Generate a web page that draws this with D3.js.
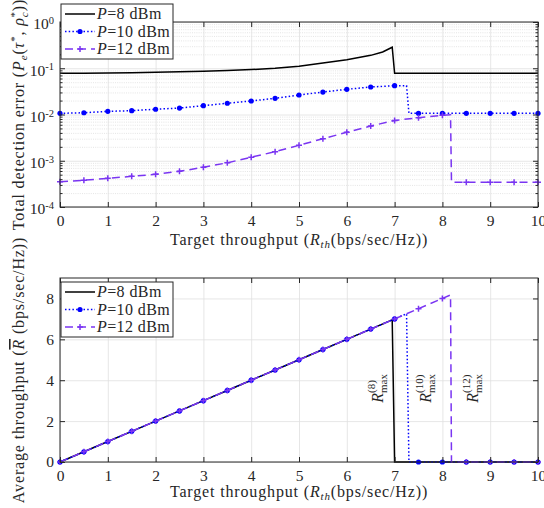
<!DOCTYPE html>
<html>
<head>
<meta charset="utf-8">
<script src="https://cdn.jsdelivr.net/npm/d3@7"></script>
<style>
  body{margin:0;background:#fff}
  text{font-family:"Liberation Serif","Times New Roman",serif;fill:#262626}
  .lbl{font-size:16px;letter-spacing:0.85px}
</style>
</head>
<body>
<script>
// ============= Data =============
const xTicks = [0,1,2,3,4,5,6,7,8,9,10];
const errTicks = [1e-4,1e-3,1e-2,1e-1,1];
const thrTicks = [0,2,4,6,8];

// Top panel: total detection error
const p8ErrX = [0,0.5,1,1.5,2,2.5,3,3.5,4,4.5,5,5.5,6,6.5,6.75,6.95,7,7.5,8,8.5,9,9.5,10];
const p8Err  = [0.0778,0.0782,0.079,0.0802,0.0817,0.0838,0.0865,0.0895,0.0935,0.1,0.11,0.13,0.152,0.19,0.225,0.285,0.0778,0.0778,0.0778,0.0778,0.0778,0.0778,0.0778];

const p10ErrX = [0,0.5,1,1.5,2,2.5,3,3.5,4,4.5,5,5.5,6,6.5,7,7.25,7.3,7.5,8,8.5,9,9.5,10];
const p10Err  = [0.0106,0.0109,0.0117,0.0121,0.013,0.0138,0.0155,0.0175,0.0196,0.0224,0.0264,0.0306,0.0351,0.0393,0.042,0.042,0.0106,0.0106,0.0106,0.0106,0.0106,0.0106,0.0106];

const p12ErrX = [0,0.5,1,1.5,2,2.5,3,3.5,4,4.5,5,5.5,6,6.5,7,7.5,8,8.17,8.19,8.5,9,9.5,10];
const p12Err  = [0.000352,0.000378,0.000417,0.000461,0.000509,0.000591,0.000722,0.000904,0.00119,0.00157,0.00216,0.003,0.00412,0.00564,0.00741,0.00853,0.00961,0.0099,0.000342,0.000342,0.000342,0.000342,0.000342];

// Bottom panel: average throughput
const p8ThrX = [0,0.5,1,1.5,2,2.5,3,3.5,4,4.5,5,5.5,6,6.5,6.95,7,7.5,8,8.5,9,9.5,10];
const p8Thr  = [0,0.5,1,1.5,2,2.5,3,3.5,4,4.5,5,5.5,6,6.5,6.95,0,0,0,0,0,0,0];

const p10ThrX = [0,0.5,1,1.5,2,2.5,3,3.5,4,4.5,5,5.5,6,6.5,7,7.25,7.3,7.5,8,8.5,9,9.5,10];
const p10Thr  = [0,0.5,1,1.5,2,2.5,3,3.5,4,4.5,5,5.5,6,6.5,7,7.25,0,0,0,0,0,0,0];

const p12ThrX = [0,0.5,1,1.5,2,2.5,3,3.5,4,4.5,5,5.5,6,6.5,7,7.5,8,8.17,8.19,8.5,9,9.5,10];
const p12Thr  = [0,0.5,1,1.5,2,2.5,3,3.5,4,4.5,5,5.5,6,6.5,7,7.5,8,8.17,0,0,0,0,0];

const legendLabels = ['8','10','12'];
const annX = [6.65, 7.65, 8.63];
const annY = [3.6, 3.6, 3.6];
const annSup = ['(8)','(10)','(12)'];

// ============= Styles =============
const axisColor = '#262626';
const styles = [
  {color:'#000000', dash:null, marker:null},
  {color:'#0000ff', dash:'1.5,2.2', marker:'dot'},
  {color:'#7a35f2', dash:'8,5', marker:'plus'}
];

const W = 544, H = 508;
const svg = d3.select('body').append('svg')
  .attr('width', W).attr('height', H);

const x = d3.scaleLinear([0,10],[60,538]);
const yTop = d3.scaleLog([1e-4,1],[207,22]);
const yBot = d3.scaleLinear([0,9],[462,278]);

// ------------ Grid ------------
function drawFrame(y, yTickVals, yMinor, top, bottom){
  const g = svg.append('g');
  const left = x.range()[0], right = x.range()[1];

  // minor grid (log panel only)
  if(yMinor){
    g.append('g')
      .attr('transform', 'translate(' + left + ',0)')
      .call(d3.axisLeft(y).tickValues(yMinor).tickSize(-(right-left)).tickFormat(''))
      .call(s => s.select('.domain').remove())
      .selectAll('line').attr('stroke', '#d4d4d4').attr('stroke-width', 0.6).attr('stroke-dasharray', '1,1.2');
  }
  // major grid
  g.append('g')
    .attr('transform', 'translate(0,' + bottom + ')')
    .call(d3.axisBottom(x).tickValues(xTicks).tickSize(-(bottom-top)).tickFormat(''))
    .call(s => s.select('.domain').remove())
    .selectAll('line').attr('stroke', '#e0e0e0').attr('stroke-width', 0.8);
  g.append('g')
    .attr('transform', 'translate(' + left + ',0)')
    .call(d3.axisLeft(y).tickValues(yTickVals).tickSize(-(right-left)).tickFormat(''))
    .call(s => s.select('.domain').remove())
    .selectAll('line').attr('stroke', '#e0e0e0').attr('stroke-width', 0.8);
  return g;
}

// ------------ Axes + box ------------
function drawAxes(y, yTickVals, yMinor, top, bottom, yFmt){
  const g = svg.append('g');
  const left = x.range()[0], right = x.range()[1];

  g.append('g')
    .attr('transform', 'translate(0,' + bottom + ')')
    .call(d3.axisBottom(x).tickValues(xTicks).tickSizeInner(-5).tickSizeOuter(0).tickPadding(8))
    .call(s => s.select('.domain').remove())
    .call(s => s.selectAll('line').attr('stroke', axisColor))
    .call(s => s.selectAll('text').style('font-size', '15.5px').attr('fill', axisColor));
  g.append('g')
    .attr('transform', 'translate(0,' + top + ')')
    .call(d3.axisTop(x).tickValues(xTicks).tickSizeInner(-5).tickSizeOuter(0).tickFormat(''))
    .call(s => s.select('.domain').remove())
    .selectAll('line').attr('stroke', axisColor);
  const la = g.append('g')
    .attr('transform', 'translate(' + left + ',0)')
    .call(d3.axisLeft(y).tickValues(yTickVals).tickSizeInner(-5).tickSizeOuter(0).tickPadding(6).tickFormat(''))
    .call(s => s.select('.domain').remove());
  la.selectAll('line').attr('stroke', axisColor);
  la.selectAll('.tick text').each(function(d){ yFmt(d3.select(this), d); });
  g.append('g')
    .attr('transform', 'translate(' + right + ',0)')
    .call(d3.axisRight(y).tickValues(yTickVals).tickSizeInner(-5).tickSizeOuter(0).tickFormat(''))
    .call(s => s.select('.domain').remove())
    .selectAll('line').attr('stroke', axisColor);
  if(yMinor){
    g.append('g')
      .attr('transform', 'translate(' + left + ',0)')
      .call(d3.axisLeft(y).tickValues(yMinor).tickSizeInner(-2.5).tickSizeOuter(0).tickFormat(''))
      .call(s => s.select('.domain').remove())
      .selectAll('line').attr('stroke', axisColor);
    g.append('g')
      .attr('transform', 'translate(' + right + ',0)')
      .call(d3.axisRight(y).tickValues(yMinor).tickSizeInner(-2.5).tickSizeOuter(0).tickFormat(''))
      .call(s => s.select('.domain').remove())
      .selectAll('line').attr('stroke', axisColor);
  }
  g.append('rect')
    .attr('x', left).attr('y', top)
    .attr('width', right-left).attr('height', bottom-top)
    .attr('fill', 'none').attr('stroke', axisColor).attr('stroke-width', 1);
}

function drawMarker(parent, px, py, st){
  if(st.marker === 'dot'){
    parent.append('circle').attr('cx', px).attr('cy', py).attr('r', 2.6).attr('fill', st.color);
  } else if(st.marker === 'plus'){
    parent.append('path')
      .attr('d', 'M' + (px-3) + ',' + py + 'H' + (px+3) + 'M' + px + ',' + (py-3) + 'V' + (py+3))
      .attr('stroke', st.color).attr('stroke-width', 1.5);
  }
}

function drawSeries(xs, ys, y, st){
  const pts = xs.map((v, i) => [v, ys[i]]);
  const line = d3.line().x(d => x(d[0])).y(d => y(d[1]));
  svg.append('path')
    .attr('d', line(pts))
    .attr('fill', 'none')
    .attr('stroke', st.color)
    .attr('stroke-width', 1.5)
    .attr('stroke-dasharray', st.dash);
  if(st.marker){
    // markers sit on the 0.5 grid only
    pts.filter(d => Number.isInteger(d[0]*2))
      .forEach(d => drawMarker(svg, x(d[0]), y(d[1]), st));
  }
}

function drawLegend(lx, ly){
  const g = svg.append('g');
  g.append('rect')
    .attr('x', lx).attr('y', ly).attr('width', 112).attr('height', 55)
    .attr('fill', '#fff').attr('stroke', axisColor).attr('stroke-width', 1);
  legendLabels.forEach((lab, i) => {
    const cy = ly + 10 + i*17.5;
    g.append('path')
      .attr('d', 'M' + (lx+4) + ',' + cy + 'H' + (lx+34))
      .attr('stroke', styles[i].color).attr('stroke-width', 1.5)
      .attr('stroke-dasharray', styles[i].dash);
    if(styles[i].marker) drawMarker(g, lx+19, cy, styles[i]);
    const t = g.append('text')
      .attr('x', lx+36).attr('y', cy+5)
      .style('font-size', '16px').style('letter-spacing', '0.4px');
    t.append('tspan').attr('font-style', 'italic').text('P');
    t.append('tspan').text('=' + lab + ' dBm');
  });
}

function xLabel(yPos){
  const t = svg.append('text').attr('class', 'lbl')
    .attr('x', 299).attr('y', yPos).attr('text-anchor', 'middle');
  t.append('tspan').text('Target throughput (');
  t.append('tspan').attr('font-style', 'italic').text('R');
  t.append('tspan').attr('font-style', 'italic').attr('dy', 3).style('font-size', '11px').text('th');
  t.append('tspan').attr('dy', -3).text('(bps/sec/Hz))');
}

// ============= Top panel =============
const minorLog = [];
[1e-4,1e-3,1e-2,1e-1].forEach(b => { for(let k=2;k<=9;k++) minorLog.push(b*k); });

drawFrame(yTop, errTicks, minorLog, 22, 207);
drawSeries(p8ErrX, p8Err, yTop, styles[0]);
drawSeries(p10ErrX, p10Err, yTop, styles[1]);
drawSeries(p12ErrX, p12Err, yTop, styles[2]);
drawAxes(yTop, errTicks, minorLog, 22, 207, (t, d) => {
  t.style('font-size', '15.5px').attr('fill', axisColor).attr('dy', '0.45em');
  t.append('tspan').text('10');
  t.append('tspan').attr('dy', '-0.5em').style('font-size', '10.5px').text(String(Math.round(Math.log10(d))));
});
drawLegend(61, 4);
xLabel(245);

const yl1 = svg.append('text').attr('class', 'lbl')
  .attr('transform', 'translate(24,114.5) rotate(-90)')
  .attr('text-anchor', 'middle');
yl1.append('tspan').text('Total detection error (');
yl1.append('tspan').attr('font-style', 'italic').text('P');
yl1.append('tspan').attr('font-style', 'italic').attr('dy', 3).style('font-size', '11px').text('e');
yl1.append('tspan').attr('dy', -3).text('(');
yl1.append('tspan').attr('font-style', 'italic').text('τ');
yl1.append('tspan').attr('dy', -6).style('font-size', '11px').text('*');
yl1.append('tspan').attr('dy', 6).text(', ');
yl1.append('tspan').attr('font-style', 'italic').text('ρ');
yl1.append('tspan').attr('font-style', 'italic').attr('dy', 4).style('font-size', '11px').text('c');
yl1.append('tspan').attr('dy', -10).attr('dx', -6).style('font-size', '11px').text('*');
yl1.append('tspan').attr('dy', 6).text('))');

// ============= Bottom panel =============
drawFrame(yBot, thrTicks, null, 278, 462);
drawSeries(p8ThrX, p8Thr, yBot, styles[0]);
drawSeries(p10ThrX, p10Thr, yBot, styles[1]);
drawSeries(p12ThrX, p12Thr, yBot, styles[2]);
drawAxes(yBot, thrTicks, null, 278, 462, (t, d) => {
  t.style('font-size', '15.5px').attr('fill', axisColor).text(d);
});
drawLegend(61, 282);

// R_max annotations
annX.forEach((ax, i) => {
  const t = svg.append('text')
    .attr('transform', 'translate(' + (x(ax)+5) + ',' + yBot(annY[i]) + ') rotate(-90)')
    .attr('text-anchor', 'middle').style('font-size', '16px');
  t.append('tspan').attr('font-style', 'italic').text('R');
  t.append('tspan').attr('dy', 4).style('font-size', '11px').text('max');
  t.append('tspan').attr('dy', -12).attr('dx', -19).style('font-size', '11px').text(annSup[i]);
});

xLabel(497);

const yl2 = svg.append('text').attr('class', 'lbl')
  .attr('transform', 'translate(24,370) rotate(-90)')
  .attr('text-anchor', 'middle');
yl2.append('tspan').text('Average throughput (');
yl2.append('tspan').attr('font-style', 'italic').style('text-decoration', 'overline').text('R');
yl2.append('tspan').text(' (bps/sec/Hz))');
</script>
</body>
</html>
